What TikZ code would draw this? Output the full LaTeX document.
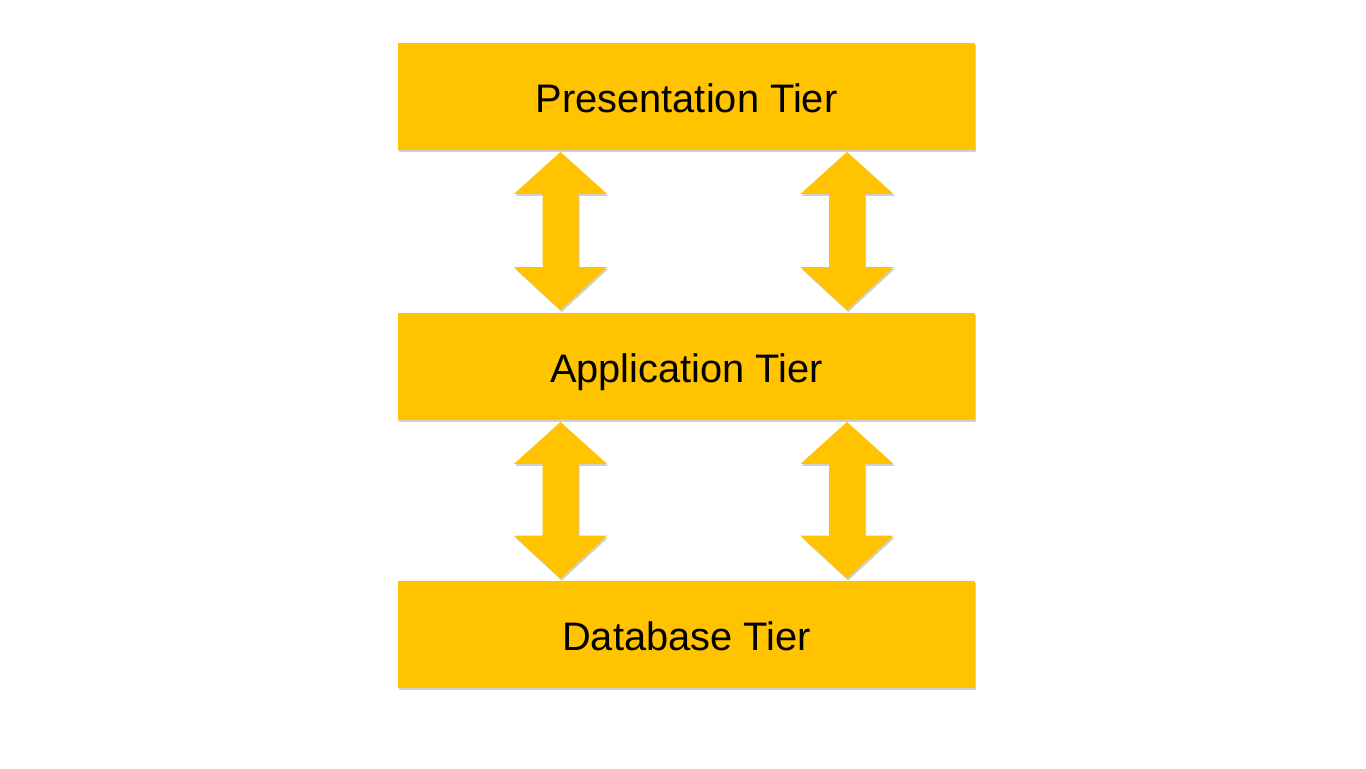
\documentclass[tikz,border=0pt]{standalone}
\usepackage{fontspec}
\setmainfont{Liberation Sans}
\usetikzlibrary{calc,shadows}
\definecolor{tieryellow}{HTML}{FFC300}
\tikzset{
  tierbox/.style={fill=tieryellow, minimum width=288.5pt, minimum height=53.5pt,
    inner sep=0pt, text height=20pt, text depth=3.8pt,
    font=\fontsize{19.9pt}{24pt}\selectfont,
    drop shadow={shadow xshift=0.6pt, shadow yshift=-1pt, opacity=0.3, fill=black!60}},
  arrowfill/.style={fill=tieryellow,
    drop shadow={shadow xshift=0.6pt, shadow yshift=-1pt, opacity=0.3, fill=black!60}}
}
\newcommand\tierarrow[3]{%
  \coordinate (t) at ($(#2.south)+(#1,2)$);
  \coordinate (b) at ($(#3.north)+(#1,-2)$);
  \path[arrowfill] (t) -- ++(46.5,42) -- ++(-28.5,0) -- ($(b)+(18,-43)$) -- ++(28.5,0)
    -- (b) -- ++(-46.5,-43) -- ++(28.5,0) -- ($(t)+(-18,42)$) -- ++(-28.5,0) -- cycle;
}
\begin{document}
\begin{tikzpicture}[x=0.5pt,y=-0.5pt]
\useasboundingbox[fill=white] (0,0) rectangle (1366,768);
\node[tierbox] (pres) at (686.5,96) {Presentation Tier};
\node[tierbox] (app) at (686.5,366) {Application Tier};
\node[tierbox] (db) at (686.5,634.5) {Database Tier};
\tierarrow{-126}{pres}{app}
\tierarrow{160.5}{pres}{app}
\tierarrow{-126}{app}{db}
\tierarrow{160.5}{app}{db}
\end{tikzpicture}
\end{document}
